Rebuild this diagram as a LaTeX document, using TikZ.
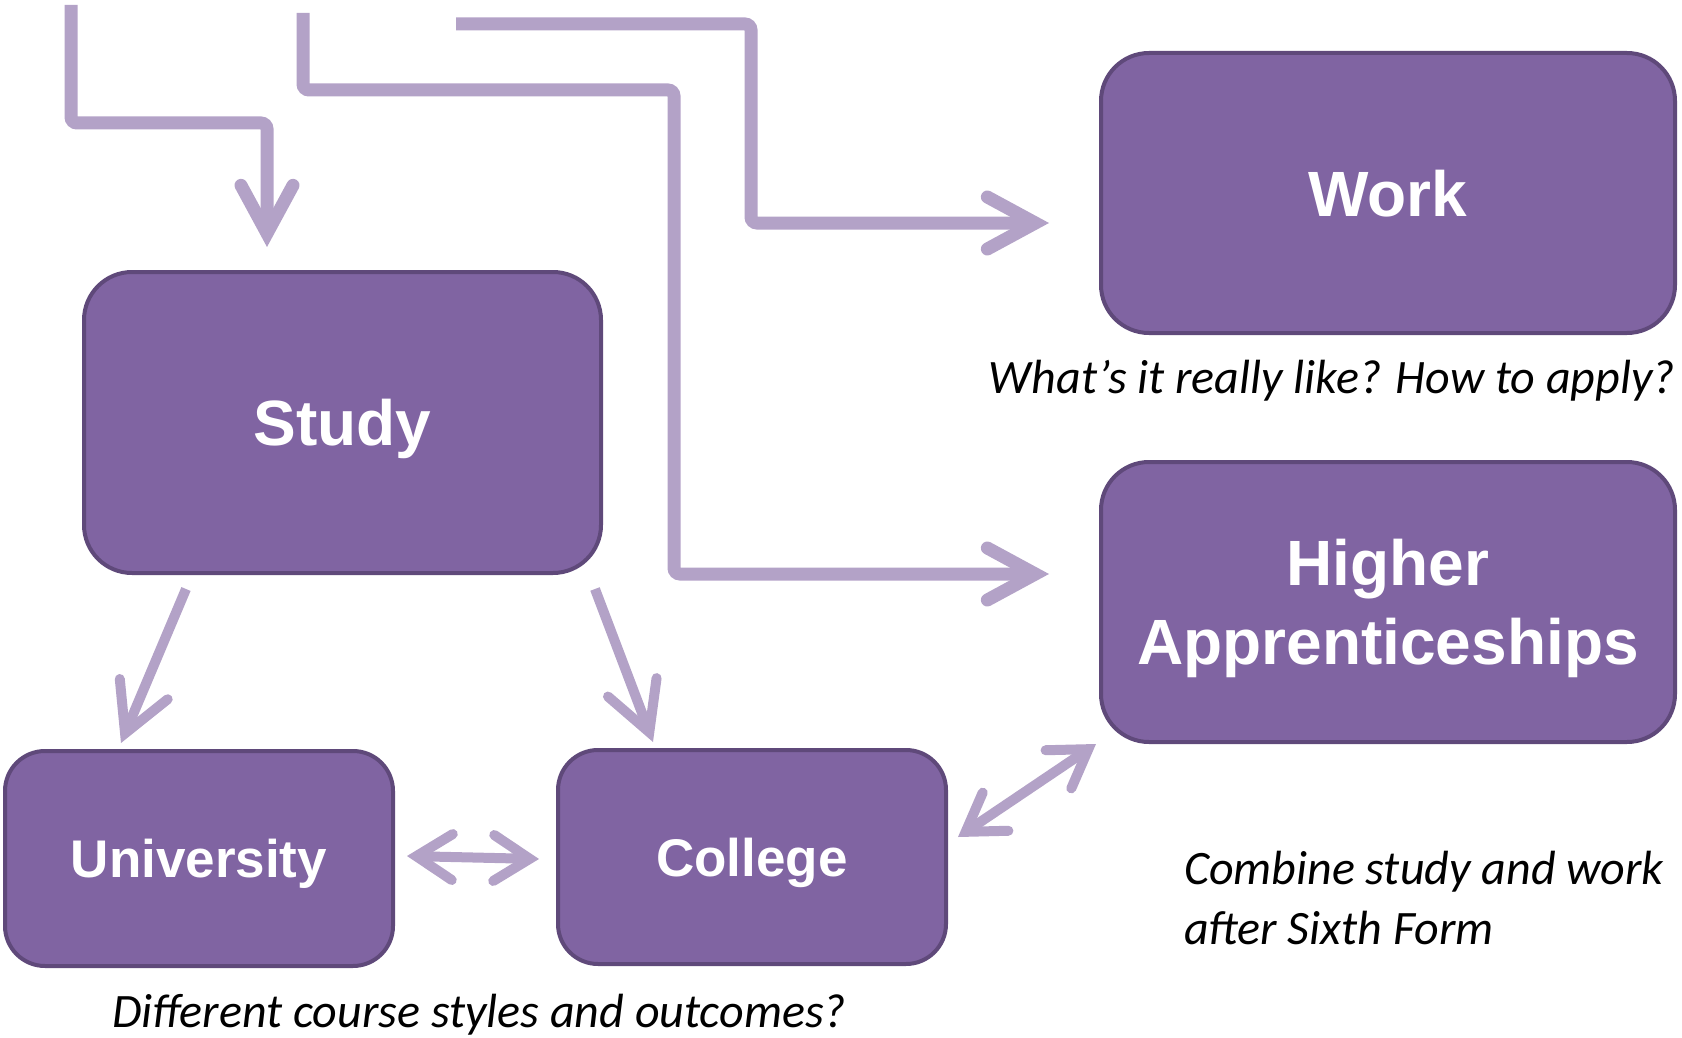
\documentclass[tikz,border=0pt]{standalone}
\usepackage{fontspec}
\usetikzlibrary{arrows.meta,calc}
\newfontfamily\boxfont{Liberation Sans}
\newfontfamily\notefont{Carlito}
\definecolor{boxfill}{HTML}{8064A2}
\definecolor{boxline}{HTML}{5F497A}
\definecolor{linkcol}{HTML}{B3A2C7}
\tikzset{
  bigtip/.tip={Straight Barb[length=24pt,width=26pt,line cap=round]},
  smalltip/.tip={Straight Barb[length=18pt,width=23pt,line cap=round]},
  box/.style={draw=boxline,fill=boxfill,line width=2pt,rounded corners=24pt,text=white,align=center,inner sep=0pt,text depth=0pt},
  bigbox/.style={box,font=\boxfont\bfseries\fontsize{32pt}{39.5pt}\selectfont},
  smallbox/.style={box,rounded corners=20pt,font=\boxfont\bfseries\fontsize{26.5pt}{32pt}\selectfont},
  link/.style={draw=linkcol,line width=6.5pt,rounded corners=3pt},
  thinlink/.style={draw=linkcol,line width=5pt},
  note/.style={font=\notefont\itshape\fontsize{24pt}{30pt}\selectfont,anchor=base}
}
\begin{document}
\begin{tikzpicture}[x=0.5pt,y=-0.5pt]
  \useasboundingbox (0,0) rectangle (1682,1038);
  % boxes
  \node[bigbox,minimum width=258.5pt,minimum height=150.5pt] (study) at (342.5,422.5) {Study};
  \node[bigbox,minimum width=287pt,minimum height=140pt] (work) at (1388,193) {Work};
  \node[bigbox,minimum width=287pt,minimum height=140pt] (higher) at (1388,602) {Higher\\Apprenticeships};
  \node[smallbox,minimum width=194pt,minimum height=107.5pt] (uni) at (199,858.5) {University};
  \node[smallbox,minimum width=194pt,minimum height=107pt] (college) at (752,857) {College};
  % notes
  \node[note] (worknote) at (1332,393) {What’s it really like? How to apply?};
  \node[note] (studynote) at (479,1027) {Different course styles and outcomes?};
  \node[note,anchor=base west,align=left] (appnote) at (1177,944) {Combine study and work\\after Sixth Form};
  % incoming lines
  \coordinate (inA) at (71,5);
  \coordinate (inB) at (303,13);
  \coordinate (inC) at (456,24);
  \draw[link,-bigtip] (inA) |- ($(study.north)+(-75.5,-147)$) -- ($(study.north)+(-75.5,-23)$);
  \draw[link,-bigtip] (inB) |- (674,90) |- ($(higher.west)+(-50,-28)$);
  \draw[link,-bigtip] (inC) -| (751,223) -- ($(work.west)+(-50,30)$);
  % study choices
  \draw[thinlink,-bigtip] ($(study.south)+(-156.5,14)$) -- ($(uni.north)+(-78,-6)$);
  \draw[thinlink,-bigtip] ($(study.south)+(252.5,14)$) -- ($(college.north)+(-99,-6)$);
  \draw[thinlink,smalltip-smalltip] ($(uni.east)+(12,-2.5)$) -- ($(college.west)+(-17,2)$);
  \draw[thinlink,smalltip-smalltip] ($(college.east)+(10,-20)$) -- ($(higher.south west)+(-3,0)$);
\end{tikzpicture}
\end{document}
